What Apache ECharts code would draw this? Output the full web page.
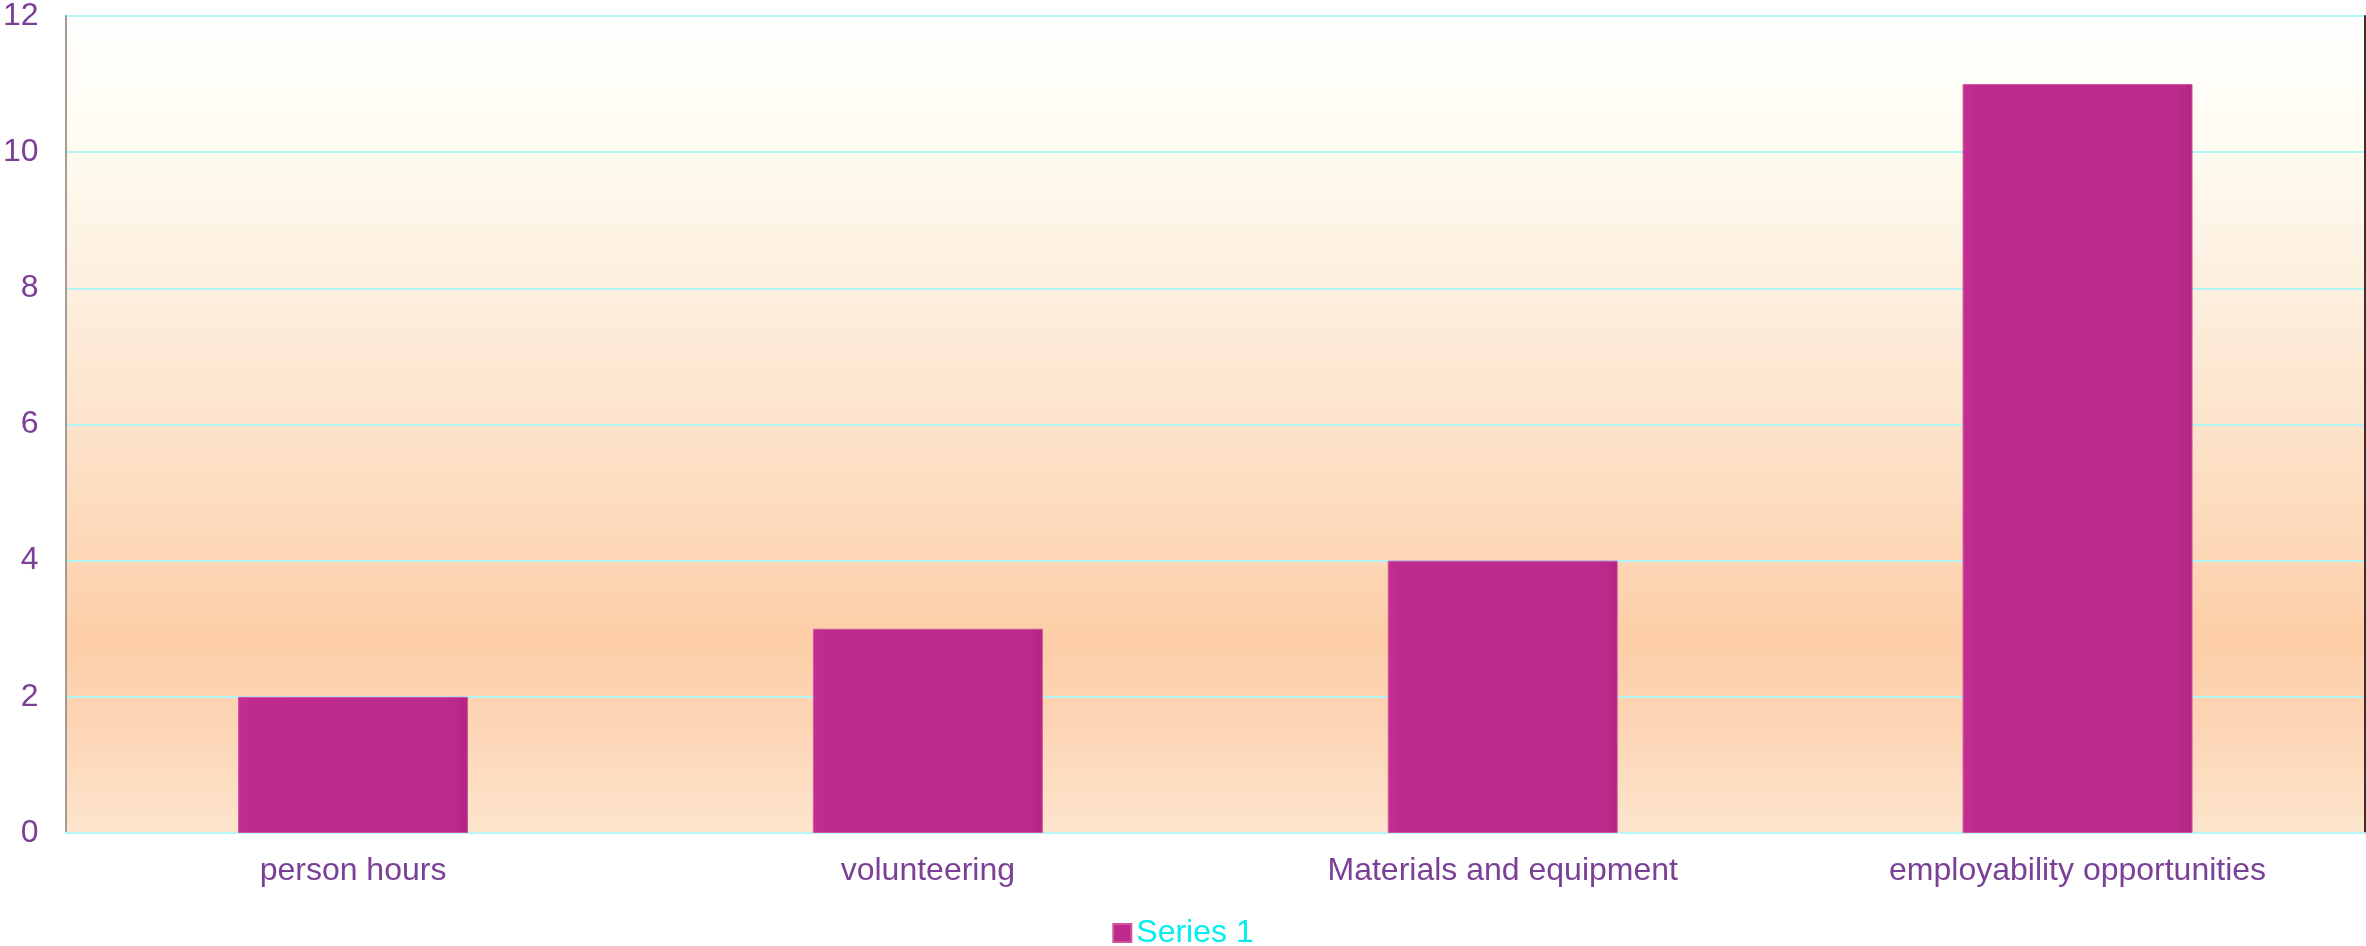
<!DOCTYPE html>
<html>
<head>
<meta charset="utf-8">
<script src="https://cdn.jsdelivr.net/npm/echarts@6/dist/echarts.min.js"></script>
<style>
  html, body { margin: 0; padding: 0; background: #ffffff; }
  #chart { width: 2366px; height: 946px; }
</style>
</head>
<body>
<div id="chart"></div>
<script>
// Categories and values for the bar chart
const categories = ['person hours', 'volunteering', 'Materials and equipment', 'employability opportunities'];
const series1 = [2, 3, 4, 11];
const seriesName = 'Series 1';
const yTicks = { min: 0, max: 12, interval: 2 };

const labelColor = '#7a3f97';
const fontFamily = 'Arial, "Liberation Sans", sans-serif';

const chart = echarts.init(document.getElementById('chart'), null, { renderer: 'canvas' });

chart.setOption({
  animation: false,
  backgroundColor: '#ffffff',
  grid: {
    left: 62, right: 1, top: 16, bottom: 113,
    show: true,
    borderWidth: 0,
    backgroundColor: new echarts.graphic.LinearGradient(0, 0, 0, 1, [
      { offset: 0.00, color: '#ffffff' },
      { offset: 0.15, color: '#fffcf1' },
      { offset: 0.33, color: '#fdefdf' },
      { offset: 0.50, color: '#fde3cb' },
      { offset: 0.67, color: '#fdd6b5' },
      { offset: 0.76, color: '#fdcea7' },
      { offset: 0.88, color: '#fdd6b7' },
      { offset: 1.00, color: '#fde5cd' }
    ])
  },
  legend: {
    data: [seriesName],
    top: 912,
    left: 'center',
    icon: 'rect',
    itemWidth: 18,
    itemHeight: 18,
    itemGap: 6,
    textStyle: { color: '#00eeee', fontSize: 32, fontFamily: fontFamily }
  },
  xAxis: {
    type: 'category',
    data: categories,
    axisLine: { show: true, lineStyle: { color: '#b8f6f6', width: 2 } },
    axisTick: { show: false },
    axisLabel: { color: labelColor, fontSize: 32, fontFamily: fontFamily, margin: 22 },
    splitLine: { show: false }
  },
  yAxis: [{
    type: 'value',
    min: yTicks.min,
    max: yTicks.max,
    interval: yTicks.interval,
    axisLine: { show: true, lineStyle: { color: '#a59c98', width: 2 } },
    axisTick: { show: false },
    axisLabel: { color: labelColor, fontSize: 32, fontFamily: fontFamily, margin: 27 },
    splitLine: { show: true, lineStyle: { color: '#b3f5f5', width: 2 } }
  }, {
    type: 'value',
    position: 'right',
    min: yTicks.min,
    max: yTicks.max,
    interval: yTicks.interval,
    axisLine: { show: true, lineStyle: { color: '#3e3028', width: 2 } },
    axisTick: { show: false },
    axisLabel: { show: false },
    splitLine: { show: false }
  }],
  series: [{
    name: seriesName,
    type: 'bar',
    data: series1,
    barWidth: '40%',
    itemStyle: {
      color: new echarts.graphic.LinearGradient(0, 0, 1, 0, [
        { offset: 0.00, color: '#c42e92' },
        { offset: 0.06, color: '#bd2a8c' },
        { offset: 0.94, color: '#bc2a8b' },
        { offset: 1.00, color: '#b02582' }
      ]),
      borderColor: '#d2559f',
      borderWidth: 1
    }
  }]
});
</script>
</body>
</html>
